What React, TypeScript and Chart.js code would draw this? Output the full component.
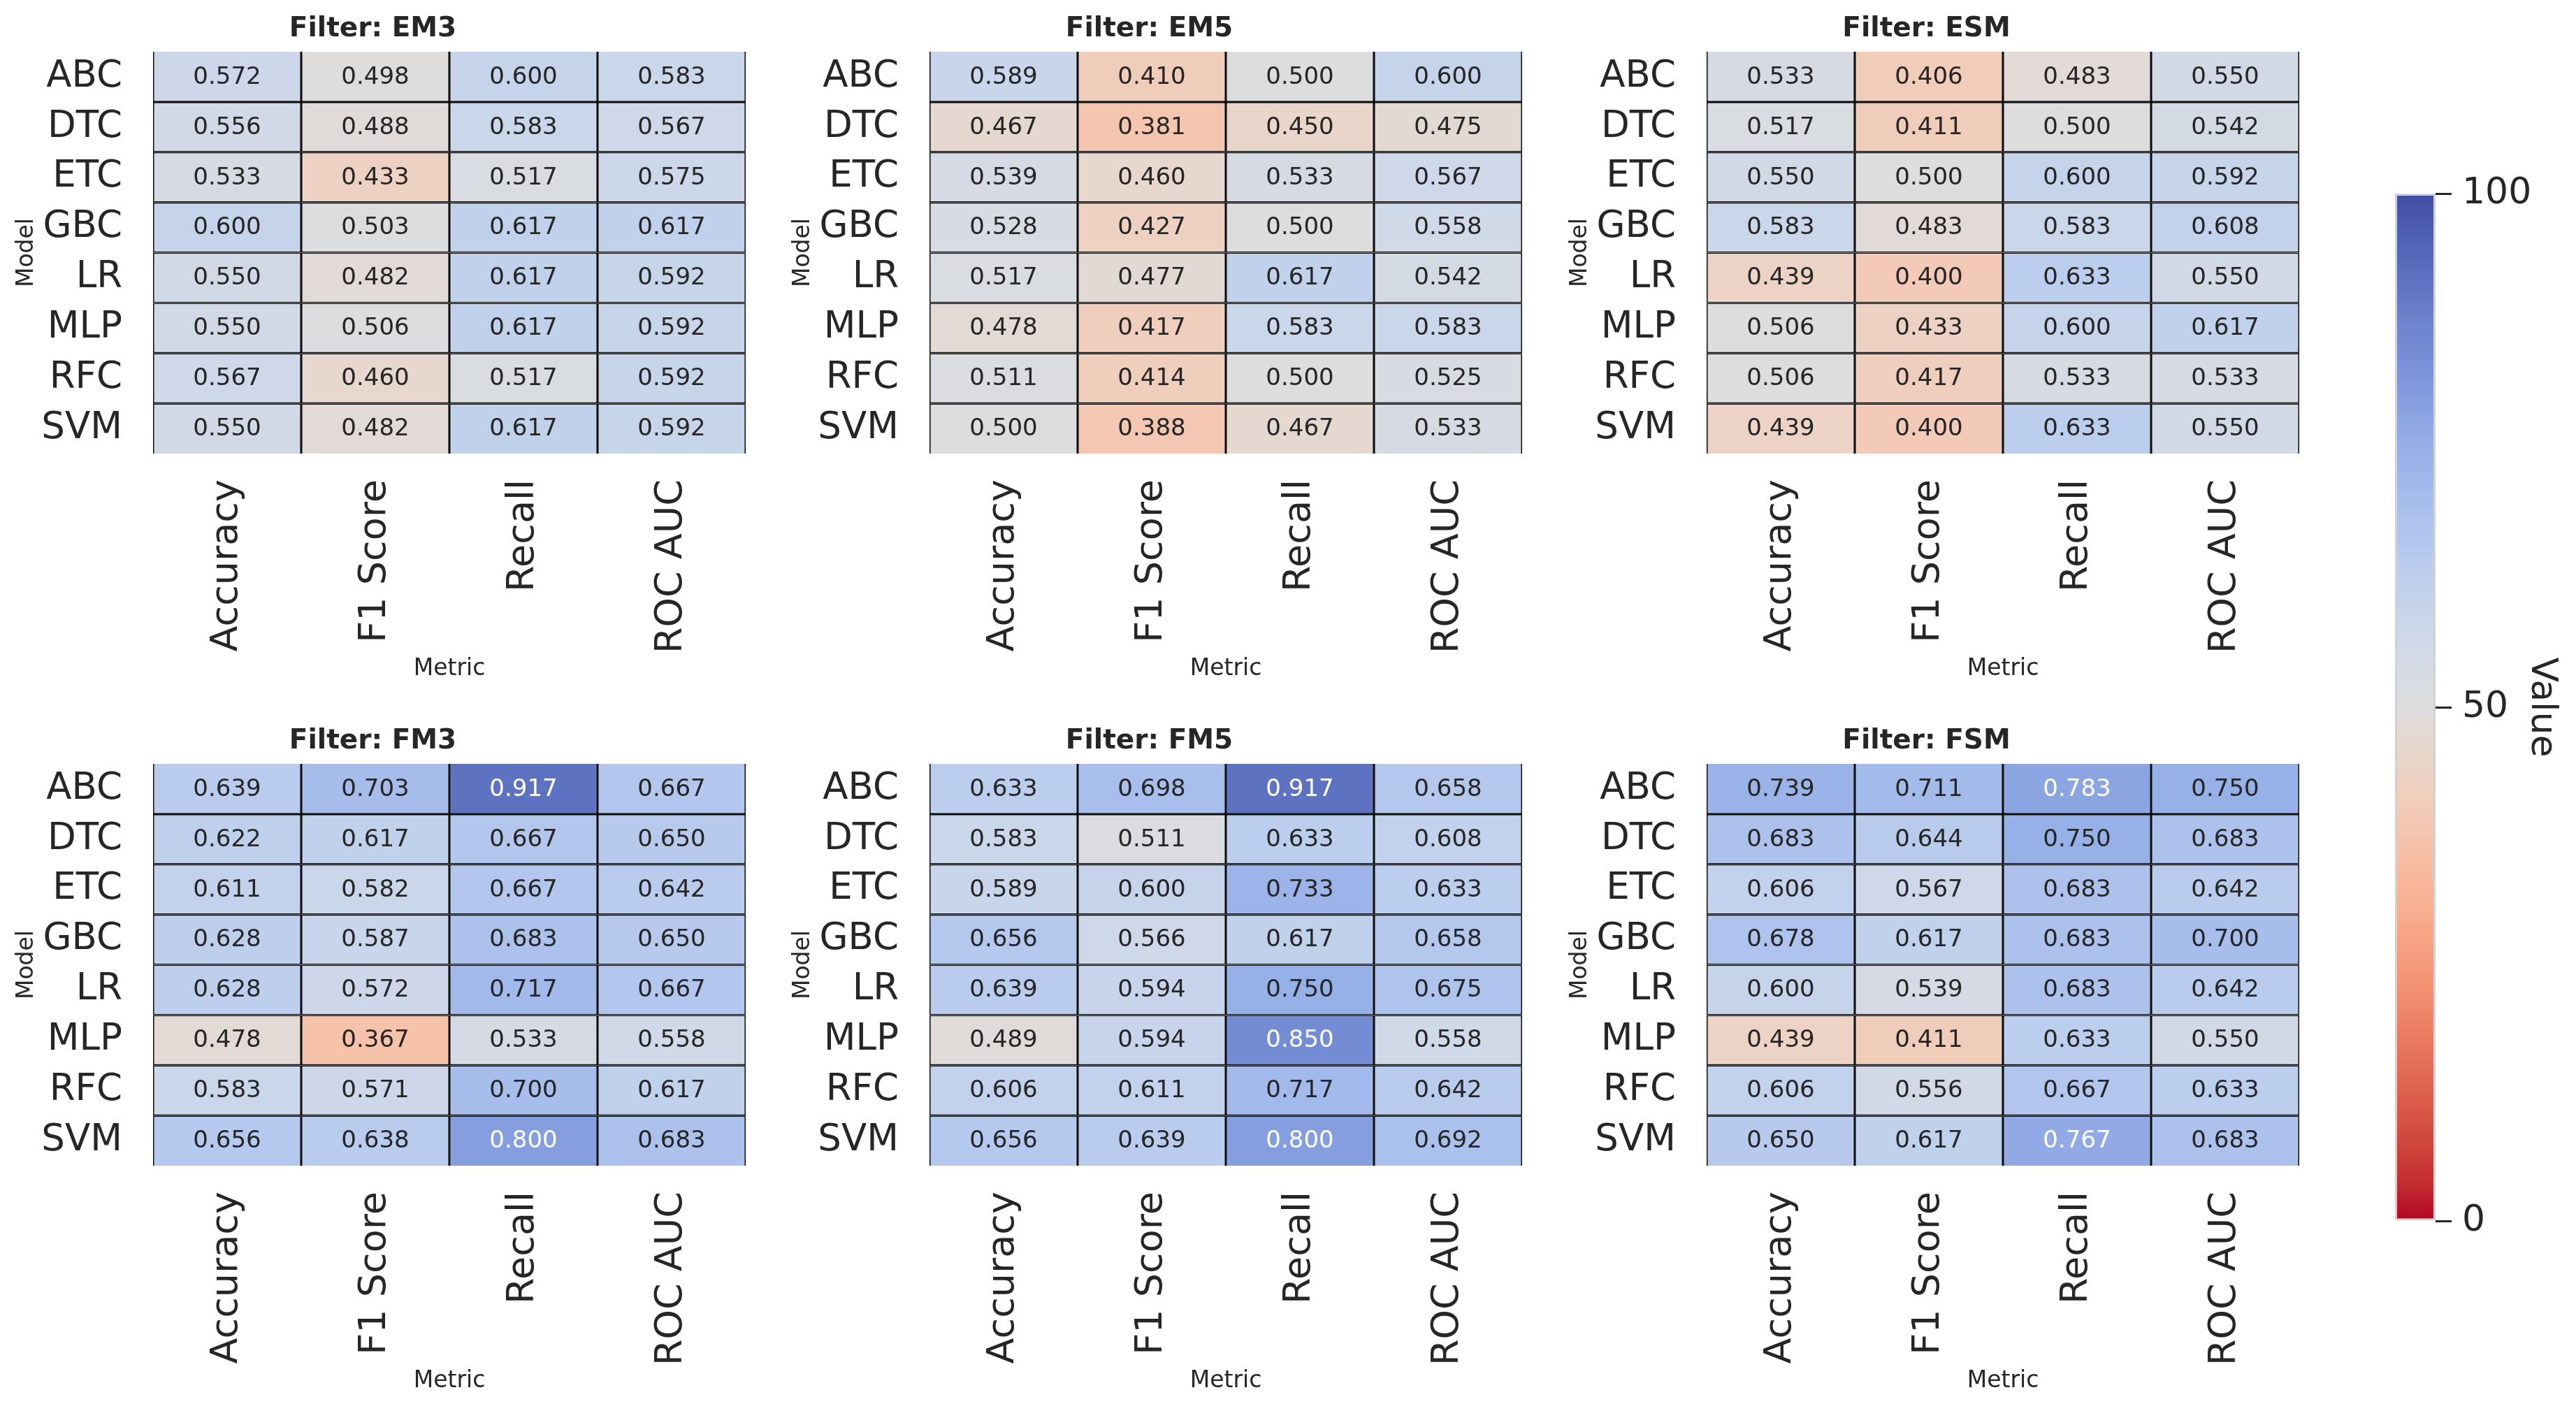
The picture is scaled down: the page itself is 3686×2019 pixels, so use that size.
import React, { useEffect, useRef } from 'react';
import { Chart, registerables } from 'chart.js';

Chart.register(...registerables);

const FONT = "'DejaVu Sans', 'Liberation Sans', sans-serif";
Chart.defaults.font.family = FONT;

// ---------------- data ----------------
const METRICS = ['Accuracy', 'F1 Score', 'Recall', 'ROC AUC'];
const MODELS = ['ABC', 'DTC', 'ETC', 'GBC', 'LR', 'MLP', 'RFC', 'SVM'];

const EM3 = [
  [0.572, 0.498, 0.6, 0.583],
  [0.556, 0.488, 0.583, 0.567],
  [0.533, 0.433, 0.517, 0.575],
  [0.6, 0.503, 0.617, 0.617],
  [0.55, 0.482, 0.617, 0.592],
  [0.55, 0.506, 0.617, 0.592],
  [0.567, 0.46, 0.517, 0.592],
  [0.55, 0.482, 0.617, 0.592],
];
const EM5 = [
  [0.589, 0.41, 0.5, 0.6],
  [0.467, 0.381, 0.45, 0.475],
  [0.539, 0.46, 0.533, 0.567],
  [0.528, 0.427, 0.5, 0.558],
  [0.517, 0.477, 0.617, 0.542],
  [0.478, 0.417, 0.583, 0.583],
  [0.511, 0.414, 0.5, 0.525],
  [0.5, 0.388, 0.467, 0.533],
];
const ESM = [
  [0.533, 0.406, 0.483, 0.55],
  [0.517, 0.411, 0.5, 0.542],
  [0.55, 0.5, 0.6, 0.592],
  [0.583, 0.483, 0.583, 0.608],
  [0.439, 0.4, 0.633, 0.55],
  [0.506, 0.433, 0.6, 0.617],
  [0.506, 0.417, 0.533, 0.533],
  [0.439, 0.4, 0.633, 0.55],
];
const FM3 = [
  [0.639, 0.703, 0.917, 0.667],
  [0.622, 0.617, 0.667, 0.65],
  [0.611, 0.582, 0.667, 0.642],
  [0.628, 0.587, 0.683, 0.65],
  [0.628, 0.572, 0.717, 0.667],
  [0.478, 0.367, 0.533, 0.558],
  [0.583, 0.571, 0.7, 0.617],
  [0.656, 0.638, 0.8, 0.683],
];
const FM5 = [
  [0.633, 0.698, 0.917, 0.658],
  [0.583, 0.511, 0.633, 0.608],
  [0.589, 0.6, 0.733, 0.633],
  [0.656, 0.566, 0.617, 0.658],
  [0.639, 0.594, 0.75, 0.675],
  [0.489, 0.594, 0.85, 0.558],
  [0.606, 0.611, 0.717, 0.642],
  [0.656, 0.639, 0.8, 0.692],
];
const FSM = [
  [0.739, 0.711, 0.783, 0.75],
  [0.683, 0.644, 0.75, 0.683],
  [0.606, 0.567, 0.683, 0.642],
  [0.678, 0.617, 0.683, 0.7],
  [0.6, 0.539, 0.683, 0.642],
  [0.439, 0.411, 0.633, 0.55],
  [0.606, 0.556, 0.667, 0.633],
  [0.65, 0.617, 0.767, 0.683],
];

const FILTER_NAMES = ['EM3', 'EM5', 'ESM', 'FM3', 'FM5', 'FSM'];
const FILTER_VALUES = [EM3, EM5, ESM, FM3, FM5, FSM];
const COLORBAR_TICKS = [0, 50, 100];
const COLORBAR_MIN = 0;
const COLORBAR_MAX = 100;

// ---------------- colour map (coolwarm, reversed) ----------------
const COOLWARM = [
  [59, 76, 192], [68, 90, 204], [77, 104, 215], [87, 117, 225], [98, 130, 234],
  [108, 142, 241], [119, 154, 247], [130, 165, 251], [141, 176, 254], [152, 185, 255],
  [163, 194, 255], [174, 201, 253], [184, 208, 249], [194, 213, 244], [204, 217, 238],
  [213, 219, 230], [221, 221, 221], [229, 216, 209], [236, 211, 197], [241, 204, 185],
  [245, 196, 173], [247, 187, 160], [247, 177, 148], [247, 166, 135], [244, 154, 123],
  [241, 141, 111], [236, 127, 99], [229, 112, 88], [222, 96, 77], [213, 80, 66],
  [203, 62, 56], [192, 40, 47], [180, 4, 38],
];

function coolwarm(t: number): number[] {
  const tt = Math.max(0, Math.min(1, t));
  const p = tt * (COOLWARM.length - 1);
  const i = Math.floor(p);
  const f = p - i;
  const a = COOLWARM[i];
  const b = COOLWARM[Math.min(i + 1, COOLWARM.length - 1)];
  return a.map((c, k) => c + (b[k] - c) * f);
}

// v in [0,1]; high = blue, low = red
function valueColor(v: number): string {
  let rgb = coolwarm(1 - v);
  if (v > 0.5) {
    const lum = 0.299 * rgb[0] + 0.587 * rgb[1] + 0.114 * rgb[2];
    rgb = rgb.map((c) => c * 0.72 + lum * 0.28);
  }
  return `rgb(${Math.round(rgb[0])},${Math.round(rgb[1])},${Math.round(rgb[2])})`;
}

const TEXT = '#262626';

// ---------------- layout ----------------
const HEAT_LEFTS = [219, 1330, 2442];
const ROW_TOPS = [0, 1019];
const AXIS_W = 219;
const HEAT_W = 848;
const CANVAS_H = 1000;
const HEAT_TOP = 74;
const HEAT_H = 575;
const LINE = 1.75;

const cellLabels = {
  id: 'cellLabels',
  afterDatasetsDraw(chart: any) {
    const ctx = chart.ctx;
    ctx.save();
    ctx.font = `34px ${FONT}`;
    ctx.textAlign = 'center';
    ctx.textBaseline = 'middle';
    chart.data.datasets.forEach((ds: any, i: number) => {
      const meta = chart.getDatasetMeta(i);
      meta.data.forEach((el: any, j: number) => {
        const v = ds.values[j];
        const p = el.getProps(['x', 'y', 'base'], true);
        ctx.fillStyle = v >= 0.76 ? '#ffffff' : TEXT;
        ctx.fillText(v.toFixed(3), p.x, (p.y + p.base) / 2 + 1);
      });
    });
    ctx.restore();
  },
};

function Heatmap({ name, values, left, top }: { name: string; values: number[][]; left: number; top: number }) {
  const ref = useRef<HTMLCanvasElement>(null);
  const width = AXIS_W + HEAT_W + AXIS_W;
  useEffect(() => {
    const canvas = ref.current;
    if (!canvas) return;
    const nRows = MODELS.length;
    const datasets = MODELS.map((model, i) => ({
      label: model,
      data: METRICS.map(() => [i, i + 1]),
      values: values[i],
      backgroundColor: values[i].map((v) => valueColor(v)),
      borderColor: '#0d0d0d',
      borderWidth: { left: LINE, right: LINE, top: i === 0 ? 0 : LINE, bottom: i === nRows - 1 ? 0 : LINE },
      borderSkipped: false,
      barPercentage: 1,
      categoryPercentage: 1,
      inflateAmount: 0,
    }));
    const chart = new Chart(canvas, {
      type: 'bar',
      data: { labels: METRICS, datasets: datasets as any },
      plugins: [cellLabels as any],
      options: {
        responsive: false,
        animation: false,
        events: [],
        layout: { padding: { left: 0, right: AXIS_W, top: 0, bottom: 0 } },
        plugins: {
          legend: { display: false },
          tooltip: { enabled: false },
          title: {
            display: true,
            text: `Filter: ${name}`,
            color: TEXT,
            font: { family: FONT, size: 39, weight: 'bold', lineHeight: 1.2 },
            padding: { top: 18.6, bottom: HEAT_TOP - 18.6 - 39 * 1.2 },
          },
        },
        scales: {
          x: {
            type: 'category',
            stacked: true,
            offset: true,
            grid: { display: false },
            border: { display: false },
            ticks: {
              color: TEXT,
              font: { family: FONT, size: 54 },
              minRotation: 90,
              maxRotation: 90,
              autoSkip: false,
              padding: 29,
            },
            title: {
              display: true,
              text: 'Metric',
              color: TEXT,
              font: { family: FONT, size: 33, lineHeight: 1.2 },
              padding: { top: 0, bottom: 23 },
            },
            afterFit: (s: any) => {
              s.height = CANVAS_H - HEAT_TOP - HEAT_H;
            },
          },
          y: {
            type: 'linear',
            min: 0,
            max: MODELS.length,
            reverse: true,
            stacked: false,
            grid: { display: false },
            border: { display: false },
            afterBuildTicks: (s: any) => {
              s.ticks = MODELS.map((_, i) => ({ value: i + 0.5 }));
            },
            ticks: {
              autoSkip: false,
              color: TEXT,
              font: { family: FONT, size: 53 },
              padding: 36,
              callback: (_v: any, i: number) => MODELS[i],
            },
            title: {
              display: true,
              text: 'Model',
              color: TEXT,
              font: { family: FONT, size: 33, lineHeight: 1.2 },
              padding: { top: 19, bottom: 0 },
            },
            afterFit: (s: any) => {
              s.width = AXIS_W;
            },
          },
        },
      } as any,
    });
    return () => chart.destroy();
  }, [name, values]);
  return (
    <canvas
      ref={ref}
      width={width}
      height={CANVAS_H}
      style={{ position: 'absolute', left, top, width, height: CANVAS_H }}
    />
  );
}

function Colorbar() {
  const ref = useRef<HTMLCanvasElement>(null);
  const left = 3310;
  const width = 376;
  const height = 2019;
  useEffect(() => {
    const canvas = ref.current;
    if (!canvas) return;
    const chart = new Chart(canvas, {
      type: 'bar',
      data: {
        labels: [''],
        datasets: [
          {
            data: [[COLORBAR_MIN, COLORBAR_MAX]],
            backgroundColor: (c: any) => {
              const area = c.chart.chartArea;
              if (!area) return '#dddddd';
              const g = c.chart.ctx.createLinearGradient(0, area.bottom, 0, area.top);
              const n = 64;
              for (let k = 0; k <= n; k++) g.addColorStop(k / n, valueColor(k / n));
              return g;
            },
            borderColor: '#d2d2d2',
            borderWidth: 3,
            borderSkipped: false,
            barPercentage: 1,
            categoryPercentage: 1,
            inflateAmount: 0,
          } as any,
        ],
      },
      options: {
        responsive: false,
        animation: false,
        events: [],
        layout: { padding: { left: 117, right: 0, top: 277, bottom: 272 } },
        plugins: { legend: { display: false }, tooltip: { enabled: false } },
        scales: {
          x: { display: false, stacked: true },
          y: {
            position: 'right',
            min: COLORBAR_MIN,
            max: COLORBAR_MAX,
            afterBuildTicks: (s: any) => {
              s.ticks = COLORBAR_TICKS.map((v) => ({ value: v }));
            },
            grid: {
              display: true,
              drawOnChartArea: false,
              drawTicks: true,
              tickLength: 23,
              tickWidth: 3,
              tickColor: TEXT,
            },
            border: { display: false },
            ticks: { color: TEXT, font: { family: FONT, size: 52 }, padding: 15 },
            title: {
              display: true,
              text: 'Value',
              color: TEXT,
              font: { family: FONT, size: 52, lineHeight: 1.2 },
              padding: { top: 18, bottom: 0 },
            },
            afterFit: (s: any) => {
              s.width = 201;
            },
          },
        },
      } as any,
    });
    return () => chart.destroy();
  }, []);
  return (
    <canvas
      ref={ref}
      width={width}
      height={height}
      style={{ position: 'absolute', left, top: 0, width, height }}
    />
  );
}

export default function App() {
  return (
    <div
      style={{
        position: 'fixed',
        left: 0,
        top: 0,
        width: 3686,
        height: 2019,
        background: '#ffffff',
        overflow: 'hidden',
      }}
    >
      {FILTER_NAMES.map((name, k) => {
        const col = k % 3;
        const row = Math.floor(k / 3);
        return (
          <Heatmap
            key={name}
            name={name}
            values={FILTER_VALUES[k]}
            left={HEAT_LEFTS[col] - AXIS_W}
            top={ROW_TOPS[row]}
          />
        );
      })}
      <Colorbar />
    </div>
  );
}
